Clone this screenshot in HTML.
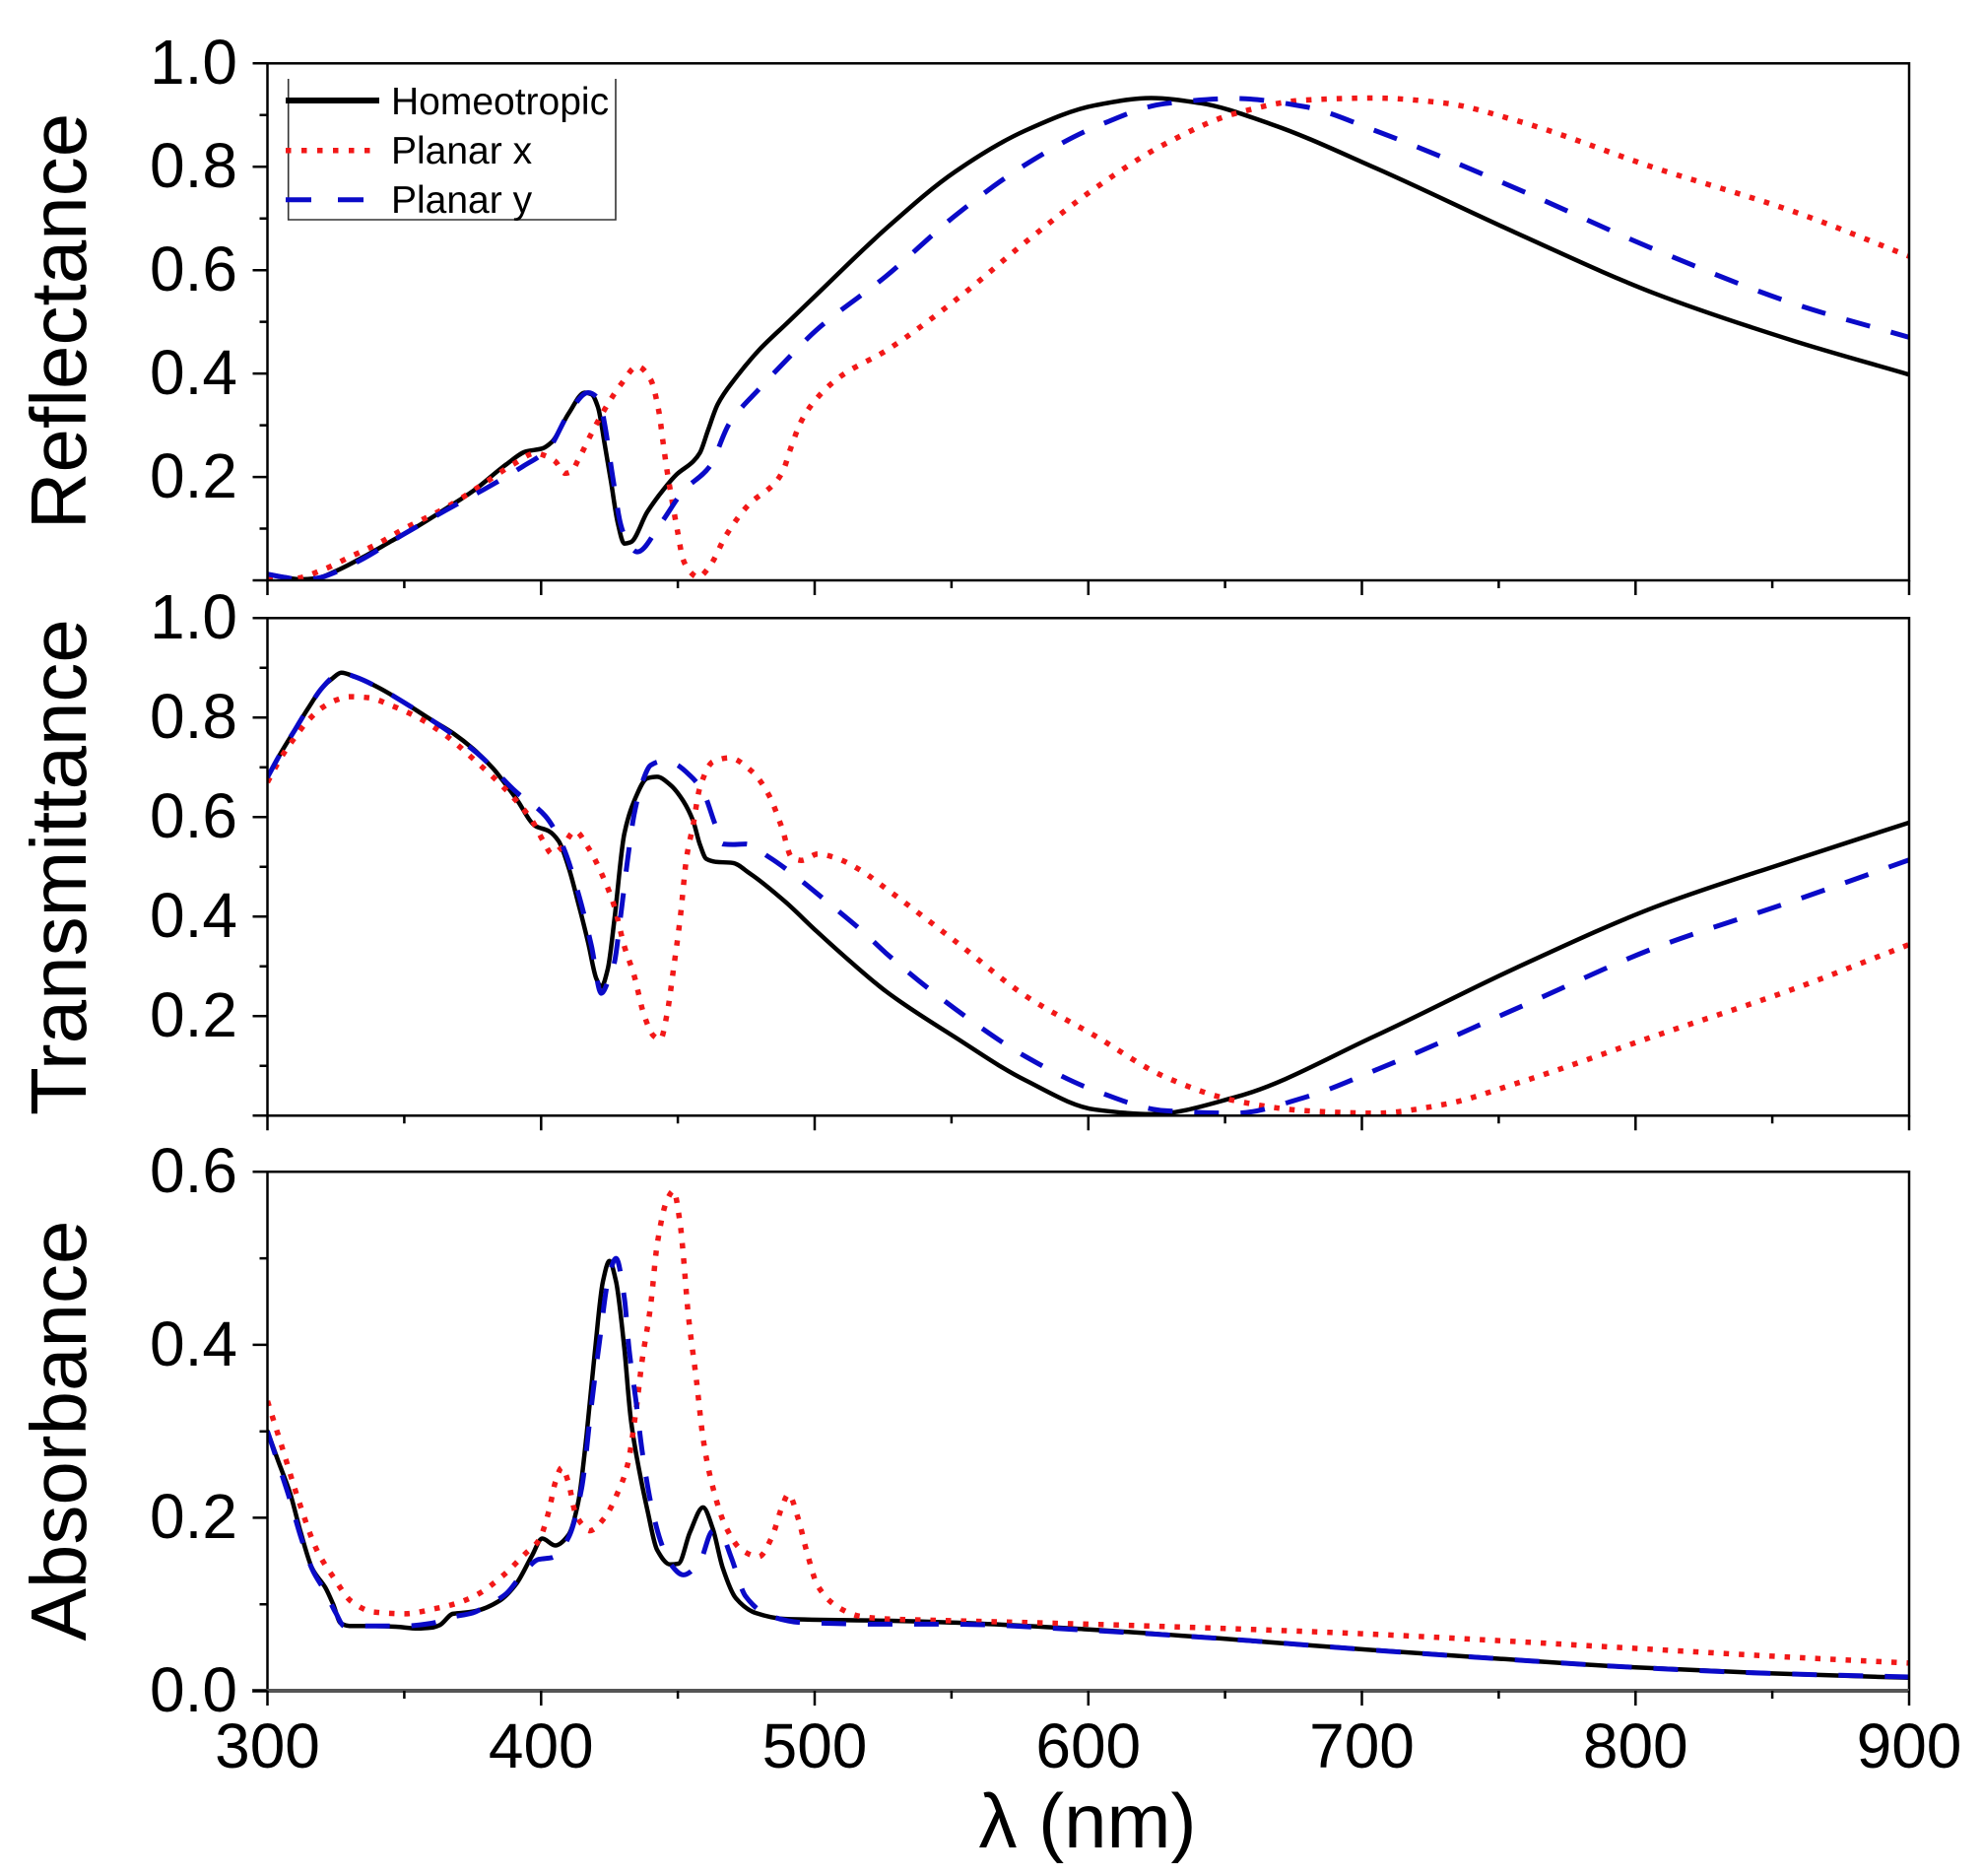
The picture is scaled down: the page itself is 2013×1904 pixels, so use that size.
<!DOCTYPE html>
<html><head><meta charset="utf-8">
<style>
html,body{margin:0;padding:0;background:#fff;}
svg{display:block;}
text{font-family:"Liberation Sans",Arial,sans-serif;fill:#000;}
</style></head><body>
<svg id="s" width="2013" height="1904" viewBox="0 0 2013 1904" xmlns="http://www.w3.org/2000/svg">
<rect x="0" y="0" width="2013" height="1904" fill="#fff"/>
<defs>
<clipPath id="ctop"><rect x="271.5" y="60" width="1666.5" height="529"/></clipPath>
<clipPath id="cmid"><rect x="271.5" y="624" width="1666.5" height="508.3"/></clipPath>
<clipPath id="cbot"><rect x="271.5" y="1186" width="1666.5" height="530"/></clipPath>
</defs>

<g id="gtop" clip-path="url(#ctop)"></g>
<g id="gmid" clip-path="url(#cmid)"></g>
<g id="gbot" clip-path="url(#cbot)"></g>

<g fill="none" stroke="#000" stroke-width="2.5">
<rect x="271.5" y="64.3" width="1666.5" height="524.7"/>
<rect x="271.5" y="627.3" width="1666.5" height="505"/>
<path d="M271.5,1716 V1189.3 H1938 V1716"/>
</g>
<line x1="256" y1="1716" x2="1938" y2="1716" stroke="#555" stroke-width="4"/>

<g id="ticks" fill="none" stroke="#000" stroke-width="2.5"></g>

<g font-size="64" text-anchor="end">
<text x="241" y="85">1.0</text>
<text x="241" y="190">0.8</text>
<text x="241" y="295">0.6</text>
<text x="241" y="400">0.4</text>
<text x="241" y="505">0.2</text>

<text x="241" y="648">1.0</text>
<text x="241" y="749">0.8</text>
<text x="241" y="850">0.6</text>
<text x="241" y="951">0.4</text>
<text x="241" y="1052">0.2</text>

<text x="241" y="1210">0.6</text>
<text x="241" y="1386">0.4</text>
<text x="241" y="1561">0.2</text>
<text x="241" y="1737">0.0</text>
</g>

<g font-size="64" text-anchor="middle">
<text x="271.5" y="1794">300</text>
<text x="549.25" y="1794">400</text>
<text x="827" y="1794">500</text>
<text x="1104.75" y="1794">600</text>
<text x="1382.5" y="1794">700</text>
<text x="1660.25" y="1794">800</text>
<text x="1938" y="1794">900</text>
</g>

<g font-size="80" text-anchor="middle">
<text transform="translate(87,326) rotate(-90)">Reflectance</text>
<text transform="translate(87,880) rotate(-90)">Transmittance</text>
<text transform="translate(87,1452) rotate(-90)">Absorbance</text>
</g>
<text x="1104" y="1875" font-size="78" text-anchor="middle">λ (nm)</text>

<g>
<path d="M292.7,80 V223 H625 V80" fill="none" stroke="#333" stroke-width="1.6"/>
<line x1="290" y1="102" x2="385" y2="102" stroke="#000" stroke-width="6"/>
<line x1="290" y1="152.7" x2="385" y2="152.7" stroke="#f21818" stroke-width="5.5" stroke-dasharray="5.5 10.5"/>
<line x1="290" y1="202.7" x2="370" y2="202.7" stroke="#0a0ac8" stroke-width="5" stroke-dasharray="26 27"/>
<g font-size="39">
<text x="397" y="116">Homeotropic</text>
<text x="397" y="166">Planar x</text>
<text x="397" y="216">Planar y</text>
</g>
</g>

</svg>
<script>
(function(){
var NS="http://www.w3.org/2000/svg";
var X0=271.5, XS=2.7775;
function px(nm){return X0+(nm-300)*XS;}
var P={top:{y0:589,s:524.7},mid:{y0:1132.3,s:505},bot:{y0:1716,s:877.8}};
function f(v){return v.toFixed(1);}
function monotone(pts){
 var n=pts.length,dx=[],m=[],t=[],i;
 for(i=0;i<n-1;i++){dx[i]=pts[i+1][0]-pts[i][0];m[i]=(pts[i+1][1]-pts[i][1])/dx[i];}
 t[0]=m[0];t[n-1]=m[n-2];
 for(i=1;i<n-1;i++){
  if(m[i-1]*m[i]<=0)t[i]=0;
  else{var w1=2*dx[i]+dx[i-1],w2=dx[i]+2*dx[i-1];t[i]=(w1+w2)/(w1/m[i-1]+w2/m[i]);}
 }
 var d='M'+f(pts[0][0])+','+f(pts[0][1]);
 for(i=0;i<n-1;i++){var h=dx[i]/3;
  d+=' C'+f(pts[i][0]+h)+','+f(pts[i][1]+t[i]*h)+' '+f(pts[i+1][0]-h)+','+f(pts[i+1][1]-t[i+1]*h)+' '+f(pts[i+1][0])+','+f(pts[i+1][1]);}
 return d;
}
function add(g,panel,data,style){
 var p=P[panel];
 var pts=data.map(function(a){return [px(a[0]),p.y0-a[1]*p.s];});
 var el=document.createElementNS(NS,'path');
 el.setAttribute('d',monotone(pts));
 el.setAttribute('fill','none');
 for(var k in style)el.setAttribute(k,style[k]);
 document.getElementById(g).appendChild(el);
}
var BL={stroke:'#000','stroke-width':'4.5','stroke-linejoin':'round','stroke-linecap':'round'};
var RD={stroke:'#f21818','stroke-width':'5.5','stroke-dasharray':'5.5 10'};
var BU={stroke:'#0a0ac8','stroke-width':'5','stroke-dasharray':'25 22'};

var topB=[[300,0.012],[306,0.006],[312,0.002],[318,0.004],[325,0.018],[335,0.045],[345,0.075],[355,0.105],[365,0.138],[375.2,0.173],[387.2,0.224],[394.4,0.249],[400.4,0.255],[404,0.268],[410,0.322],[416,0.363],[418.4,0.36],[420.8,0.335],[423.2,0.265],[425.6,0.189],[428,0.112],[430.4,0.071],[432.8,0.074],[438.8,0.132],[444.8,0.176],[449.6,0.205],[455.6,0.23],[458,0.246],[461,0.29],[464.6,0.341],[471.2,0.392],[479.6,0.445],[490.4,0.5],[500.4,0.551],[526,0.68],[551.5,0.791],[577,0.87],[602.6,0.919],[623,0.933],[641,0.923],[666.5,0.883],[704.8,0.798],[756,0.673],[807,0.555],[858,0.463],[900,0.398]];
var topR=[[300,0.006],[310,0.004],[320,0.02],[330,0.045],[340,0.07],[350,0.1],[365,0.14],[377.6,0.182],[390,0.225],[398,0.246],[402,0.24],[405.2,0.23],[408.8,0.207],[411,0.21],[413.6,0.233],[418.4,0.284],[424.4,0.341],[429.2,0.379],[435.2,0.414],[440,0.389],[443,0.328],[444.5,0.271],[446,0.214],[447.8,0.157],[449.8,0.097],[452,0.039],[454.4,0.017],[457.4,0.006],[461.6,0.027],[467.6,0.087],[476,0.147],[485.6,0.189],[488.6,0.214],[491,0.252],[495.2,0.309],[500.6,0.351],[509.6,0.395],[526,0.444],[551.5,0.542],[577,0.654],[602.6,0.759],[628,0.844],[653.7,0.903],[679.3,0.929],[704.8,0.933],[730.4,0.923],[756,0.89],[807,0.798],[858,0.713],[900,0.627]];
var topU=[[300,0.012],[306,0.006],[312,0.002],[318,0.004],[325,0.016],[335,0.042],[350,0.09],[365,0.135],[381.2,0.182],[393.2,0.22],[402.8,0.255],[410,0.322],[417.2,0.363],[421.4,0.348],[423.2,0.303],[426.2,0.2],[429.2,0.106],[432,0.07],[435.2,0.055],[443.6,0.109],[452,0.173],[461.6,0.22],[468.8,0.303],[480.2,0.373],[490.4,0.43],[500.4,0.483],[526,0.588],[551.5,0.706],[577,0.804],[602.6,0.877],[628,0.922],[653.7,0.932],[679.3,0.916],[704.8,0.87],[756,0.759],[807,0.64],[858,0.535],[900,0.47]];

var midB=[[300,0.68],[305,0.73],[310,0.775],[315,0.82],[320,0.86],[324,0.88],[327,0.89],[332,0.882],[340,0.862],[350,0.83],[360,0.795],[368,0.768],[375.2,0.737],[382.4,0.698],[390.8,0.638],[398,0.582],[402.8,0.572],[406.4,0.552],[410,0.5],[413.6,0.427],[417.2,0.348],[420.2,0.275],[422,0.259],[424.4,0.295],[426.8,0.394],[430.4,0.566],[434,0.632],[438.8,0.678],[442.4,0.681],[447.2,0.665],[452,0.632],[455.6,0.592],[458,0.546],[460.4,0.516],[464,0.51],[470,0.508],[476,0.488],[489.2,0.43],[500.8,0.37],[513,0.31],[526,0.25],[551.5,0.157],[577,0.071],[602.6,0.012],[623,0.003],[653.7,0.037],[704.8,0.16],[756,0.296],[807,0.419],[858,0.514],[900,0.589]];
var midR=[[300,0.67],[305,0.72],[310,0.76],[315,0.795],[320,0.82],[325,0.835],[330,0.842],[337,0.84],[345,0.825],[355,0.8],[365,0.765],[376.4,0.711],[388.4,0.648],[396.8,0.592],[401,0.55],[404,0.526],[407.6,0.539],[412.4,0.572],[417.2,0.539],[423.2,0.473],[426.8,0.42],[430.4,0.341],[434,0.282],[437.6,0.203],[441.2,0.16],[443.6,0.153],[446,0.203],[448.4,0.295],[450.8,0.394],[453.2,0.519],[455.6,0.585],[458,0.658],[462.8,0.711],[468.8,0.719],[477.2,0.691],[483.2,0.645],[488,0.579],[491.6,0.519],[495.2,0.513],[501.2,0.526],[507.2,0.519],[516.8,0.493],[526.4,0.455],[551.5,0.35],[577,0.241],[602.6,0.16],[628,0.078],[653.7,0.03],[679.3,0.01],[704.8,0.005],[730.4,0.023],[756,0.064],[807,0.16],[858,0.255],[900,0.344]];
var midU=[[300,0.68],[305,0.73],[310,0.775],[315,0.82],[320,0.86],[324,0.882],[327,0.89],[332,0.882],[340,0.862],[350,0.83],[360,0.795],[368,0.765],[377.6,0.724],[390.8,0.651],[401.6,0.602],[407.6,0.546],[413.6,0.447],[418.4,0.341],[422,0.246],[424.5,0.27],[426.8,0.308],[429.2,0.407],[431.6,0.513],[434,0.605],[437,0.67],[440,0.704],[444,0.712],[448.4,0.708],[454.4,0.684],[459.2,0.651],[463.4,0.589],[466.4,0.546],[470,0.545],[474.8,0.546],[483.2,0.52],[494,0.477],[503.6,0.434],[518,0.368],[526,0.327],[551.5,0.214],[577,0.119],[602.6,0.05],[628,0.01],[653.7,0.005],[679.3,0.037],[704.8,0.091],[756,0.214],[807,0.337],[858,0.432],[900,0.514]];

var botB=[[300,0.3],[304,0.265],[308.3,0.228],[312,0.185],[316.4,0.141],[321.2,0.119],[324,0.1],[326.8,0.078],[330,0.075],[338.9,0.075],[347,0.074],[354.9,0.072],[360,0.073],[363,0.076],[367.8,0.089],[371,0.09],[375.8,0.092],[384.8,0.104],[390.8,0.123],[396.8,0.157],[400.4,0.176],[405.2,0.168],[410,0.18],[413.6,0.218],[416.6,0.295],[419.6,0.39],[422.6,0.473],[425,0.497],[427.4,0.473],[430.4,0.397],[432.8,0.314],[435.8,0.256],[438.8,0.21],[442.4,0.163],[447.2,0.146],[450.2,0.147],[454.4,0.183],[459.2,0.212],[462.8,0.187],[466.4,0.142],[471.2,0.107],[478.4,0.09],[489.2,0.083],[526.4,0.081],[550,0.079],[600,0.071],[650,0.06],[700,0.048],[750,0.037],[800,0.027],[850,0.02],[900,0.015]];
var botR=[[300,0.335],[305.1,0.284],[311.6,0.218],[318,0.163],[324.4,0.13],[330.8,0.103],[338.9,0.091],[350.1,0.089],[361.3,0.095],[368,0.1],[376,0.11],[386,0.133],[394.4,0.159],[399.2,0.174],[402.8,0.207],[405.2,0.241],[407.6,0.258],[410,0.241],[412.4,0.207],[414.8,0.193],[417.8,0.185],[423.2,0.2],[428,0.229],[431.6,0.261],[434.6,0.322],[437,0.383],[440,0.444],[442.4,0.515],[446,0.567],[448.4,0.578],[450.8,0.541],[452,0.503],[453.8,0.435],[456.8,0.359],[459.2,0.292],[462.8,0.235],[467.6,0.189],[473.6,0.162],[479.6,0.155],[484.4,0.178],[488,0.212],[490.4,0.227],[494,0.199],[497,0.162],[501.2,0.121],[508.4,0.097],[516.8,0.086],[526.4,0.083],[550,0.081],[600,0.077],[650,0.072],[700,0.066],[750,0.058],[800,0.049],[850,0.04],[900,0.032]];
var botU=[[300,0.3],[304,0.262],[308.3,0.22],[312,0.18],[316.4,0.14],[321,0.115],[325,0.09],[328,0.075],[340,0.075],[350,0.075],[360,0.078],[367,0.085],[375,0.09],[380,0.098],[387.2,0.112],[393.2,0.135],[399.2,0.152],[404,0.154],[410,0.177],[414.8,0.234],[418.4,0.33],[421.4,0.405],[424.4,0.473],[427.4,0.5],[430.4,0.455],[432.2,0.394],[434.6,0.337],[437,0.276],[440,0.219],[443.6,0.174],[447.2,0.147],[452,0.134],[458,0.149],[462.8,0.185],[466.4,0.178],[469.4,0.155],[474.8,0.109],[483.2,0.087],[495.2,0.079],[526.4,0.077],[550,0.077],[600,0.07],[650,0.06],[700,0.048],[750,0.037],[800,0.027],[850,0.02],[900,0.016]];

add('gtop','top',topB,BL);add('gtop','top',topR,RD);add('gtop','top',topU,BU);
add('gmid','mid',midB,BL);add('gmid','mid',midR,RD);add('gmid','mid',midU,BU);
add('gbot','bot',botB,BL);add('gbot','bot',botR,RD);add('gbot','bot',botU,BU);

var d='';
var axes=[{y0:589,s:524.7,max:1.0},{y0:1132.3,s:505,max:1.0},{y0:1716,s:877.8,max:0.6}];
axes.forEach(function(a){
 var nmax=Math.round(a.max*10);
 for(var i=0;i<=nmax;i++){
  var y=a.y0-i/10*a.s, L=(i%2==0)?15:8;
  d+='M'+f(271.5-L)+','+f(y)+'H271.5';
 }
 for(var nm=300;nm<=900;nm+=50){
  var x=px(nm), L2=(nm%100==0)?15:8;
  d+='M'+f(x)+','+f(a.y0)+'V'+f(a.y0+L2);
 }
});
var tp=document.createElementNS(NS,'path');
tp.setAttribute('d',d);
document.getElementById('ticks').appendChild(tp);
})();
</script>
</body></html>
